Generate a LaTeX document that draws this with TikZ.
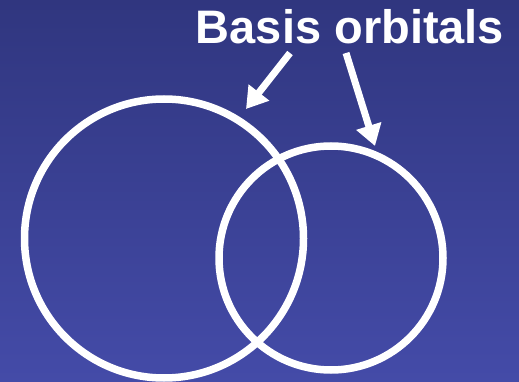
\documentclass[tikz,border=0pt]{standalone}
\usepackage{fontspec}
\setmainfont{Liberation Sans}
\usepackage{xcolor}
\usepackage{tikz}
\usetikzlibrary{arrows.meta,positioning}
\definecolor{bgtop}{HTML}{30367F}
\definecolor{bgbot}{HTML}{444BA8}
\tikzset{
  orb/.style={circle,draw=white,line width=7.5pt,inner sep=0pt},
  ar/.style={-{Triangle[length=21pt,width=25pt]},line width=7pt,white},
  lbl/.style={text=white,font=\bfseries\fontsize{47}{56}\selectfont,inner sep=0pt}
}
\begin{document}
\begin{tikzpicture}[x=1pt,y=-1pt]
\shade[top color=bgtop,bottom color=bgbot] (0,0) rectangle (519,382);
\useasboundingbox (0,0) rectangle (519,382);
\node[orb,minimum size=279pt] (big) at (164,238.5) {};
\node[orb,minimum size=224pt] (small) at (331,258) {};
\node[lbl,anchor=base] (basis) at (350,44) {Basis orbitals};
\coordinate (tailA) at (290,53);
\coordinate (tipA) at (246,109);
\coordinate (tailB) at (346,53);
\coordinate (tipB) at (375,146);
\draw[ar] (tailA) -- (tipA);
\draw[ar] (tailB) -- (tipB);
\end{tikzpicture}
\end{document}
